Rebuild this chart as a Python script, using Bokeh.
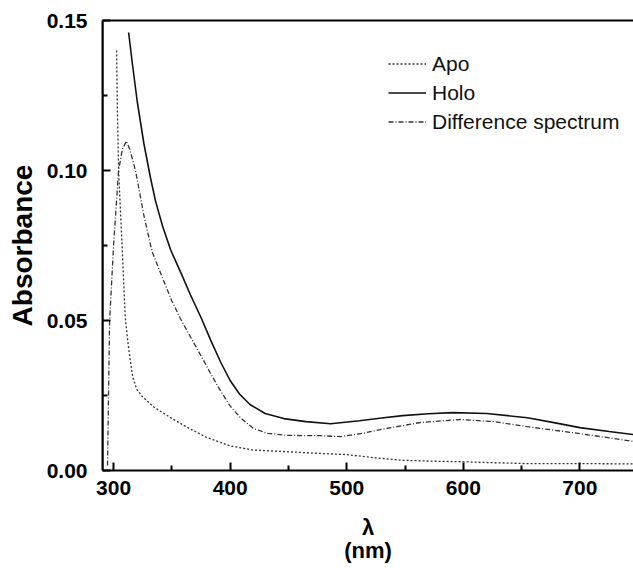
from bokeh.plotting import figure
from bokeh.models import (Range1d, LinearAxis, FixedTicker, Legend, LegendItem,
                          PrintfTickFormatter, Span)
from bokeh.embed import file_html
from bokeh.resources import INLINE

# ---- data ----
apo_wl = [302.6, 303.2, 304.3, 307.3, 310, 312.5, 314.6, 316.5, 320, 325, 335, 349, 365,
          380, 400, 420, 452, 477, 500, 525, 548, 575, 600, 625, 655, 700, 746]
apo_abs = [0.140, 0.122, 0.100, 0.075, 0.051, 0.042, 0.036, 0.031, 0.027, 0.0245, 0.021,
           0.0176, 0.014, 0.011, 0.0082, 0.0068, 0.0062, 0.0057, 0.0053, 0.0042, 0.0034,
           0.0031, 0.0029, 0.0026, 0.0023, 0.0023, 0.0022]

holo_wl = [312.9, 316, 320.3, 326, 331.7, 336, 342, 349, 359, 366, 375, 383, 392, 400, 408,
           417, 430, 446, 465, 486, 511, 530, 548, 570, 591, 620, 655, 680, 700, 725, 746]
holo_abs = [0.146, 0.136, 0.123, 0.109, 0.0975, 0.0898, 0.0815, 0.0735, 0.0648, 0.0585, 0.051,
            0.0437, 0.036, 0.030, 0.0255, 0.022, 0.019, 0.0173, 0.0163, 0.0156, 0.0166,
            0.0175, 0.0183, 0.0189, 0.0193, 0.019, 0.0176, 0.0158, 0.0143, 0.013, 0.012]

diff_wl = [294.8, 296.6, 300, 304.3, 307.5, 311, 314, 318.9, 326, 333, 343, 350, 357.5, 366,
           374.6, 383, 391.8, 400, 409, 420, 432, 449, 477, 495, 515, 534, 563, 597.5, 626,
           655, 700, 746]
diff_abs = [0.0017, 0.050, 0.075, 0.100, 0.107, 0.1098, 0.107, 0.0998, 0.085, 0.073, 0.0632,
            0.0565, 0.0505, 0.0445, 0.0385, 0.0325, 0.0265, 0.0215, 0.0175, 0.014, 0.0124,
            0.0117, 0.0116, 0.0113, 0.0125, 0.014, 0.016, 0.017, 0.0163, 0.0146, 0.0123,
            0.0097]

x_major = [300, 400, 500, 600, 700]
x_minor = [350, 450, 550, 650]
y_major = [0.0, 0.05, 0.10, 0.15]
y_minor = [0.025, 0.075, 0.125]
x_start, x_end = 290.5, 746
y_start, y_end = 0.0, 0.15

FONT = "Liberation Sans"

p = figure(width=633, height=568, output_backend="svg", toolbar_location=None,
           x_range=Range1d(x_start, x_end), y_range=Range1d(y_start, y_end),
           min_border_left=102, min_border_top=20, min_border_right=0,
           min_border_bottom=98)
p.outline_line_color = None
p.grid.grid_line_color = None
p.background_fill_color = "white"
p.border_fill_color = "white"

r_apo = p.line(apo_wl, apo_abs, line_color="#333333", line_width=1.3, line_dash="2 2")
r_holo = p.line(holo_wl, holo_abs, line_color="#111111", line_width=1.6)
r_diff = p.line(diff_wl, diff_abs, line_color="#333333", line_width=1.3, line_dash="5 2 1 2")


def style_axis(ax):
    ax.axis_line_width = 2
    ax.axis_line_color = "black"
    ax.major_tick_in = 8
    ax.major_tick_out = 0
    ax.minor_tick_in = 5
    ax.minor_tick_out = 0
    ax.major_tick_line_width = 2
    ax.minor_tick_line_width = 2
    ax.major_label_text_font = FONT
    ax.major_label_text_font_style = "bold"
    ax.major_label_text_font_size = "21px"
    ax.major_label_text_color = "black"
    ax.axis_label_text_font = FONT
    ax.axis_label_text_font_style = "bold"
    ax.axis_label_text_color = "black"


xa = p.xaxis[0]
style_axis(xa)
xa.ticker = FixedTicker(ticks=x_major, minor_ticks=x_minor)
xa.major_label_standoff = 10
xa.axis_label = "λ"
xa.axis_label_text_font_size = "22px"
xa.axis_label_standoff = 17

ya = p.yaxis[0]
style_axis(ya)
ya.ticker = FixedTicker(ticks=y_major, minor_ticks=y_minor)
ya.formatter = PrintfTickFormatter(format="%.2f")
ya.major_label_standoff = 15
ya.axis_label = "Absorbance"
ya.axis_label_text_font_size = "28px"
ya.axis_label_standoff = 6

# second line of the x label
xa2 = LinearAxis(ticker=FixedTicker(ticks=[]), axis_line_color=None,
                 major_tick_line_color=None, minor_tick_line_color=None,
                 major_label_text_font_size="0px", axis_label="(nm)")
xa2.axis_label_text_font = FONT
xa2.axis_label_text_font_style = "bold"
xa2.axis_label_text_font_size = "22px"
xa2.axis_label_text_color = "black"
xa2.axis_label_standoff = -5
p.add_layout(xa2, "below")

# top border
top = LinearAxis(ticker=FixedTicker(ticks=[]), axis_line_width=2, axis_line_color="black",
                 major_tick_line_color=None, minor_tick_line_color=None,
                 major_label_text_font_size="0px")
p.add_layout(top, "above")

# reinforce left frame edge
p.add_layout(Span(location=x_start, dimension="height", line_color="black", line_width=2))

legend = Legend(items=[LegendItem(label="Apo", renderers=[r_apo]),
                       LegendItem(label="Holo", renderers=[r_holo]),
                       LegendItem(label="Difference spectrum", renderers=[r_diff])],
                location=(286, 334), glyph_width=38, glyph_height=29, label_height=29,
                spacing=0, padding=0, margin=0, label_standoff=6,
                border_line_color=None, background_fill_alpha=0,
                label_text_font=FONT, label_text_font_size="21px",
                label_text_color="#111111")
p.add_layout(legend)

open("out.html", "w").write(file_html(p, INLINE))
